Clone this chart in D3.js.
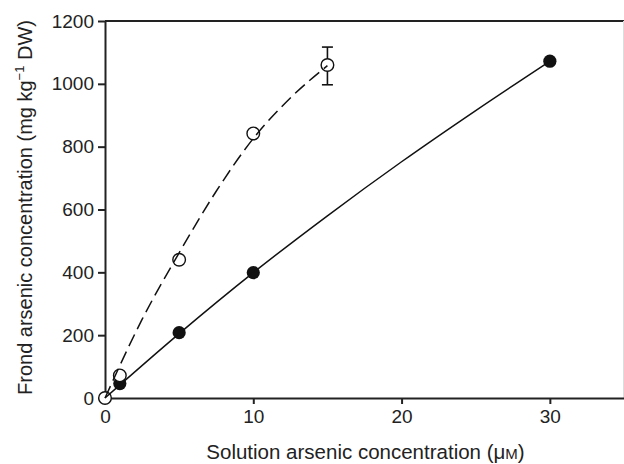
<!DOCTYPE html>
<meta charset="utf-8">
<style type="text/css">
  body { margin: 0; background: #fff; }
  text { font-family: "Liberation Sans", Arial, sans-serif; fill: #222; }
  .axis path, .axis line { stroke: #222; stroke-width: 2px; }
</style>
<body>
<div class="chart"></div>
<script src="https://d3js.org/d3.v7.min.js"></script>
<script>

// solution arsenic (uM) vs frond arsenic (mg/kg DW)
var filledX = [1, 5, 10, 30];
var filledY = [46, 208, 399, 1072];
var openX = [0, 1, 5, 10, 15];
var openY = [0, 72, 440, 842, 1060];
// error bar on the last open point
var errX = [15];
var errLo = [997];
var errHi = [1117];
// fitted lines
var solidFitX = [0, 5, 10, 15, 20, 25, 30];
var solidFitY = [0, 205, 399, 580, 752, 915, 1072];
var dashFitX = [0, 2.5, 5, 7.5, 10, 12.5, 15];
var dashFitY = [0, 250, 462, 658, 826, 955, 1058];
var xTicks = [0, 10, 20, 30];
var yTicks = [0, 200, 400, 600, 800, 1000, 1200];

var width = 624, height = 464;
var margin = {top: 21, right: 0, bottom: 66, left: 105};

var svg = d3.select(".chart").append("svg")
    .attr("width", width)
    .attr("height", height);

var x = d3.scaleLinear().domain([0, 35]).range([margin.left, width - margin.right]);
var y = d3.scaleLinear().domain([0, 1200]).range([height - margin.bottom, margin.top]);

// frame: top line and faint right edge
svg.append("line")
    .attr("x1", x(0)).attr("x2", x(35))
    .attr("y1", y(1200)).attr("y2", y(1200))
    .attr("stroke", "#222").attr("stroke-width", 2);
svg.append("line")
    .attr("x1", width - 0.5).attr("x2", width - 0.5)
    .attr("y1", y(1200)).attr("y2", y(0))
    .attr("stroke", "#ddd").attr("stroke-width", 1);

svg.append("g")
    .attr("class", "axis")
    .attr("transform", "translate(0," + y(0) + ")")
    .call(d3.axisBottom(x).tickValues(xTicks).tickFormat(d3.format("d"))
      .tickSize(6).tickSizeOuter(0).tickPadding(6));

svg.append("g")
    .attr("class", "axis")
    .attr("transform", "translate(" + x(0) + ",0)")
    .call(d3.axisLeft(y).tickValues(yTicks).tickFormat(d3.format("d"))
      .tickSize(7).tickSizeOuter(0).tickPadding(4));

svg.selectAll(".axis").attr("font-size", null).attr("font-family", null);
svg.selectAll(".axis text")
    .style("font-size", "19px")
    .attr("fill", "#222");

// markers first, lines on top (as in the reference)
var filled = filledX.map(function(d, i) { return {x: d, y: filledY[i]}; });
var open = openX.map(function(d, i) { return {x: d, y: openY[i]}; });

svg.selectAll(".dot-filled")
    .data(filled)
    .enter().append("circle")
    .attr("class", "dot-filled")
    .attr("cx", function(d) { return x(d.x); })
    .attr("cy", function(d) { return y(d.y); })
    .attr("r", 6.6)
    .attr("fill", "#111");

svg.selectAll(".dot-open")
    .data(open)
    .enter().append("circle")
    .attr("class", "dot-open")
    .attr("cx", function(d) { return x(d.x); })
    .attr("cy", function(d) { return y(d.y); })
    .attr("r", 6.3)
    .attr("fill", "#fff")
    .attr("stroke", "#111")
    .attr("stroke-width", 1.4);

// error bar
errX.forEach(function(d, i) {
  var g = svg.append("g").attr("stroke", "#111").attr("stroke-width", 1.6);
  g.append("line").attr("x1", x(d)).attr("x2", x(d)).attr("y1", y(errHi[i])).attr("y2", y(openY[4]) - 6.3);
  g.append("line").attr("x1", x(d)).attr("x2", x(d)).attr("y1", y(openY[4]) + 6.3).attr("y2", y(errLo[i]));
  g.append("line").attr("x1", x(d) - 5.5).attr("x2", x(d) + 5.5).attr("y1", y(errHi[i])).attr("y2", y(errHi[i]));
  g.append("line").attr("x1", x(d) - 5.5).attr("x2", x(d) + 5.5).attr("y1", y(errLo[i])).attr("y2", y(errLo[i]));
});

var line = d3.line()
    .x(function(d) { return x(d.x); })
    .y(function(d) { return y(d.y); })
    .curve(d3.curveMonotoneX);

svg.append("path")
    .datum(solidFitX.map(function(d, i) { return {x: d, y: solidFitY[i]}; }))
    .attr("d", line)
    .attr("fill", "none")
    .attr("stroke", "#111")
    .attr("stroke-width", 1.5);

svg.append("path")
    .datum(dashFitX.map(function(d, i) { return {x: d, y: dashFitY[i]}; }))
    .attr("d", line)
    .attr("fill", "none")
    .attr("stroke", "#111")
    .attr("stroke-width", 1.5)
    .attr("stroke-dasharray", "13,6");

// axis titles
var xt = svg.append("text")
    .attr("x", (x(0) + x(35)) / 2 + 1)
    .attr("y", 459)
    .attr("text-anchor", "middle")
    .style("font-size", "20.5px");
xt.append("tspan").text("Solution arsenic concentration (μ");
xt.append("tspan").style("font-size", "15px").text("M");
xt.append("tspan").text(")");

var yt = svg.append("text")
    .attr("transform", "translate(32," + ((y(0) + y(1200)) / 2 - 2) + ") rotate(-90)")
    .attr("text-anchor", "middle")
    .style("font-size", "20px");
yt.append("tspan").text("Frond arsenic concentration (mg kg");
yt.append("tspan").attr("dy", -8).style("font-size", "13px").text("−1");
yt.append("tspan").attr("dy", 8).text(" DW)");

</script>
</body>
